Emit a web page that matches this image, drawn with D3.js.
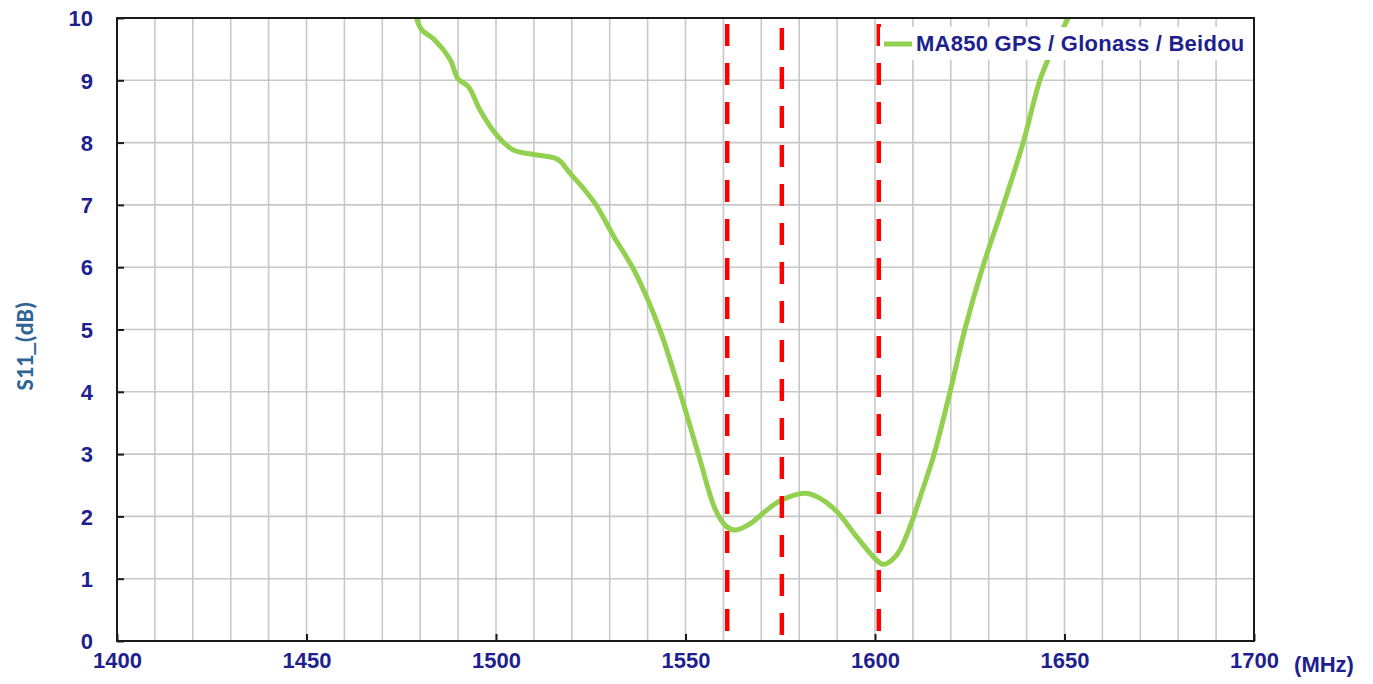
<!DOCTYPE html>
<html>
<head>
<meta charset="utf-8">
<script src="https://cdn.jsdelivr.net/npm/d3@7"></script>
<style>
  html, body { margin: 0; padding: 0; background: #ffffff; }
  svg { display: block; }
</style>
</head>
<body>
<svg id="chart" width="1373" height="684"></svg>
<script>
// ---- data ----
const freqMHz = [1479, 1480.4, 1483.4, 1487.9, 1490, 1492.7, 1495.8, 1500.2, 1504.6, 1509.9,
  1515.6, 1517, 1519.5, 1523, 1526.6, 1531, 1536.7, 1543.2, 1548.5,
  1553.4, 1557.8, 1560.6, 1563.1, 1567, 1571.4, 1575, 1581.5, 1585.5, 1589.9,
  1595.2, 1600.4, 1602.2, 1605.7, 1609.2, 1612.3, 1615.6, 1619.8, 1623.7, 1628.4,
  1633.9, 1639.1, 1643.5, 1646.5, 1651];
const s11dB = [10.0, 9.81, 9.67, 9.33, 9.02, 8.9, 8.52, 8.12, 7.88, 7.81,
  7.75, 7.70, 7.51, 7.27, 6.98, 6.5, 5.92, 5.0, 4.0,
  3.0, 2.12, 1.85, 1.78, 1.88, 2.1, 2.25, 2.37, 2.29, 2.08,
  1.67, 1.30, 1.23, 1.38, 1.83, 2.38, 3.0, 4.0, 5.0, 6.0,
  7.0, 8.0, 9.0, 9.45, 10.0];
const bandMarkersMHz = [1561, 1575.42, 1601];
const xTickLabels = [1400, 1450, 1500, 1550, 1600, 1650, 1700];
const yTickLabels = [0, 1, 2, 3, 4, 5, 6, 7, 8, 9, 10];
const seriesName = "MA850 GPS / Glonass / Beidou";
const yAxisTitle = "S11_(dB)";
const xAxisUnit = "(MHz)";

// ---- layout ----
const L = 117, R = 1254, T = 18, B = 641;
const svg = d3.select("#chart");
const x = d3.scaleLinear().domain([1400, 1700]).range([L, R]);
const y = d3.scaleLinear().domain([0, 10]).range([B, T]);
const labelColor = "#1f1f8f";
const font = "'Liberation Sans', Arial, sans-serif";

// gridlines
const grid = svg.append("g");
grid.selectAll("line.vx").data(x.ticks(30)).join("line")
  .attr("x1", d => x(d)).attr("x2", d => x(d)).attr("y1", T).attr("y2", B)
  .attr("stroke", "#c8c8c8").attr("stroke-width", 1.6);
grid.selectAll("line.hy").data(y.ticks(10)).join("line")
  .attr("y1", d => y(d)).attr("y2", d => y(d)).attr("x1", L).attr("x2", R)
  .attr("stroke", "#c8c8c8").attr("stroke-width", 1.6);

// clip
svg.append("clipPath").attr("id", "plotclip").append("rect")
  .attr("x", L).attr("y", T).attr("width", R - L).attr("height", B - T);

// curve
const pts = freqMHz.map((f, i) => [f, s11dB[i]]);
const line = d3.line().x(d => x(d[0])).y(d => y(d[1])).curve(d3.curveCatmullRom.alpha(0.5));
svg.append("path").datum(pts)
  .attr("clip-path", "url(#plotclip)")
  .attr("d", line)
  .attr("fill", "none").attr("stroke", "#92d050").attr("stroke-width", 5)
  .attr("stroke-linejoin", "round").attr("stroke-linecap", "round");

// red dashed band markers
const offsets = [33, 29, 33];
svg.selectAll("line.band").data(bandMarkersMHz).join("line")
  .attr("x1", d => x(d)).attr("x2", d => x(d)).attr("y1", T).attr("y2", B)
  .attr("stroke", "#ff0000").attr("stroke-width", 4.5)
  .attr("stroke-dasharray", "22,17")
  .attr("stroke-dashoffset", (d, i) => offsets[i]);

// frame
svg.append("rect").attr("x", L).attr("y", T).attr("width", R - L).attr("height", B - T)
  .attr("fill", "none").attr("stroke", "#1a1a1a").attr("stroke-width", 2);

// axes (inward ticks)
const yAxis = d3.axisLeft(y).tickValues(yTickLabels).tickSize(-7).tickPadding(24).tickFormat(d3.format("d"));
const gy = svg.append("g").attr("transform", `translate(${L},0)`).call(yAxis);
gy.select(".domain").remove();
gy.selectAll(".tick line").attr("stroke", "#1a1a1a").attr("stroke-width", 2);
gy.selectAll(".tick text").attr("fill", labelColor).attr("font-family", font)
  .attr("font-weight", "bold").attr("font-size", 22).attr("dy", "0.35em");

const xAxis = d3.axisBottom(x).tickValues(xTickLabels).tickSize(-7).tickPadding(27).tickFormat(d3.format("d"));
const gx = svg.append("g").attr("transform", `translate(0,${B})`).call(xAxis);
gx.select(".domain").remove();
gx.selectAll(".tick line").attr("stroke", "#1a1a1a").attr("stroke-width", 2);
gx.selectAll(".tick text").attr("fill", labelColor).attr("font-family", font)
  .attr("font-weight", "bold").attr("font-size", 22).attr("dy", "0");

// unit
svg.append("text").attr("x", 1324).attr("y", 672).attr("text-anchor", "middle")
  .attr("fill", labelColor).attr("font-family", font).attr("font-weight", "bold")
  .attr("font-size", 22).text(xAxisUnit);

// y axis title
svg.append("text").attr("transform", "translate(33,346) rotate(-90)")
  .attr("text-anchor", "middle").attr("fill", "#2f6496")
  .attr("font-family", "Carlito, Calibri, 'Liberation Sans', sans-serif").attr("font-weight", "bold")
  .attr("font-size", 24).text(yAxisTitle);

// legend
const lg = svg.append("g");
lg.append("rect").attr("x", 880).attr("y", 27).attr("width", 370).attr("height", 33).attr("fill", "#ffffff");
lg.append("line").attr("x1", 884).attr("x2", 912).attr("y1", 44).attr("y2", 44)
  .attr("stroke", "#92d050").attr("stroke-width", 5);
lg.append("text").attr("x", 916).attr("y", 51).attr("fill", labelColor)
  .attr("font-family", font).attr("font-weight", "bold").attr("font-size", 22)
  .attr("letter-spacing", 0.25)
  .text(seriesName);
</script>
</body>
</html>
